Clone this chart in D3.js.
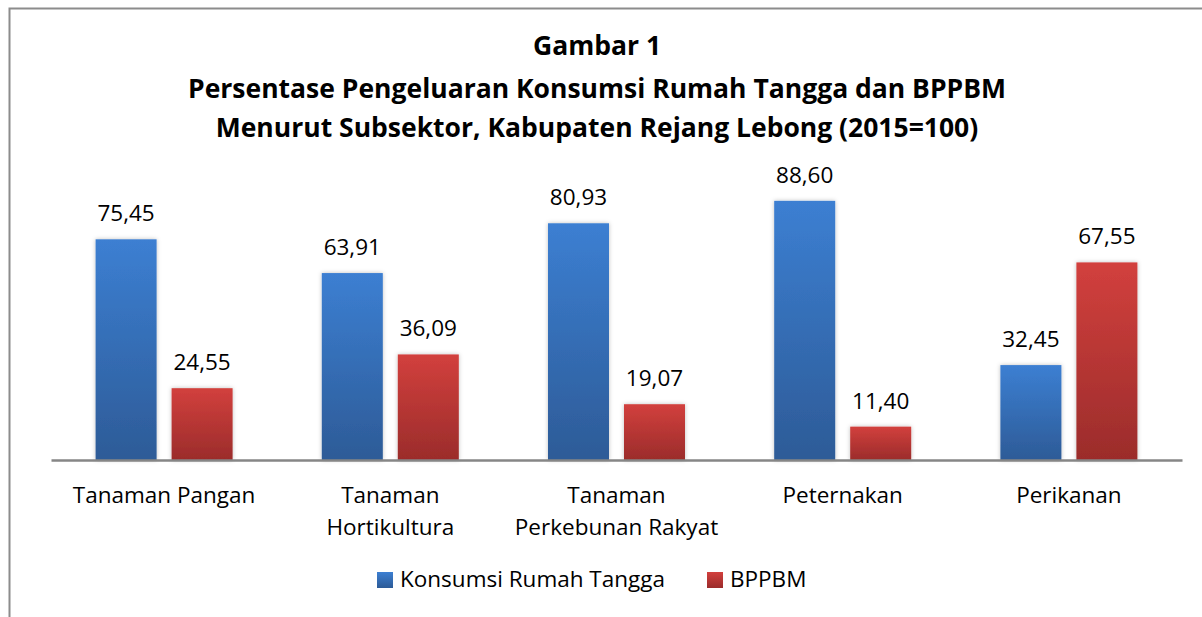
<!DOCTYPE html>
<html>
<head>
<meta charset="utf-8">
<script src="https://cdn.jsdelivr.net/npm/d3@7"></script>
<style>
  body { margin: 0; background: #fff; }
  text { font-family: "Open Sans", sans-serif; fill: #000; }
</style>
</head>
<body>
<div id="chart"></div>
<script>
const categories = [["Tanaman Pangan"], ["Tanaman", "Hortikultura"], ["Tanaman", "Perkebunan Rakyat"], ["Peternakan"], ["Perikanan"]]
const seriesNames = ["Konsumsi Rumah Tangga", "BPPBM"]
const konsumsi = [75.45, 63.91, 80.93, 88.60, 32.45]
const bppbm = [24.55, 36.09, 19.07, 11.40, 67.55]
const titleLines = ["Gambar 1", "Persentase Pengeluaran Konsumsi Rumah Tangga dan BPPBM", "Menurut Subsektor, Kabupaten Rejang Lebong (2015=100)"]

const W = 1202, H = 617
const margin = { top: 160, right: 20, bottom: 157, left: 51 }
const innerW = 1182 - margin.left
const innerH = 460 - margin.top

const svg = d3.select("#chart").append("svg").attr("width", W).attr("height", H)

// 渐变
const defs = svg.append("defs")
const grads = [["gBlue", "#3c7fd2", "#2d5b97"], ["gRed", "#d2403d", "#9b2c2b"]]
grads.forEach(([id, c1, c2]) => {
  const g = defs.append("linearGradient").attr("id", id).attr("x1", 0).attr("y1", 0).attr("x2", 0).attr("y2", 1)
  g.append("stop").attr("offset", "0%").attr("stop-color", c1)
  g.append("stop").attr("offset", "100%").attr("stop-color", c2)
})
const shadow = defs.append("filter").attr("id", "shadow").attr("x", "-20%").attr("y", "-20%").attr("width", "140%").attr("height", "140%")
shadow.append("feDropShadow").attr("dx", 0).attr("dy", 0).attr("stdDeviation", 2).attr("flood-color", "#000").attr("flood-opacity", 0.25)

// 外框
svg.append("path").attr("d", `M9.5,${H} V8.5 H${W}`).attr("fill", "none").attr("stroke", "#8c8c8c").attr("stroke-width", 2)

// 标题
const titleY = [55, 98, 137]
svg.append("g").selectAll("text").data(titleLines).join("text")
  .attr("x", 597).attr("y", (d, i) => titleY[i])
  .attr("text-anchor", "middle").attr("font-weight", "bold").attr("font-size", 26.5)
  .text(d => d)

const root = svg.append("g").attr("transform", `translate(${margin.left},${margin.top})`)

const x0 = d3.scaleBand().domain(d3.range(categories.length)).range([0, innerW])
const y = d3.scaleLinear().domain([0, 300 / 2.925]).range([innerH, 0])
const barW = 61, gap = 15

const series = [konsumsi, bppbm]
series.forEach((vals, s) => {
  const off = s === 0 ? -(gap / 2 + barW) : gap / 2
  const g = root.append("g")
  g.selectAll("rect").data(vals).join("rect")
    .attr("x", (d, i) => x0(i) + x0.bandwidth() / 2 + off)
    .attr("y", d => y(d))
    .attr("width", barW)
    .attr("height", d => innerH - y(d))
    .attr("fill", s === 0 ? "url(#gBlue)" : "url(#gRed)")
    .attr("filter", "url(#shadow)")
  g.selectAll("text").data(vals).join("text")
    .attr("x", (d, i) => x0(i) + x0.bandwidth() / 2 + off + barW / 2)
    .attr("y", d => y(d) - 18)
    .attr("text-anchor", "middle").attr("font-size", 22.5)
    .text(d => d.toFixed(2).replace(".", ","))
})

// X 轴
const xAxis = d3.axisBottom(x0).tickSize(0).tickFormat("")
const ax = root.append("g").attr("transform", `translate(0,${innerH})`).call(xAxis)
ax.select(".domain").attr("stroke", "#868686").attr("stroke-width", 2.5)

const labs = root.append("g").selectAll("text").data(categories).join("text")
  .attr("x", (d, i) => x0(i) + x0.bandwidth() / 2)
  .attr("y", innerH + 43)
  .attr("text-anchor", "middle").attr("font-size", 22.5)
labs.selectAll("tspan").data(d => d).join("tspan")
  .attr("x", function () { return this.parentNode.getAttribute("x") })
  .attr("dy", (d, i) => i === 0 ? 0 : 32)
  .text(d => d)

// 图例
const legend = svg.append("g").attr("transform", "translate(377,587)")
const legendX = [0, 330]
seriesNames.forEach((n, i) => {
  legend.append("rect").attr("x", legendX[i]).attr("y", -15).attr("width", 16).attr("height", 16)
    .attr("fill", i === 0 ? "url(#gBlue)" : "url(#gRed)")
  legend.append("text").attr("x", legendX[i] + 23).attr("y", 0).attr("font-size", 22.5).text(n)
})
</script>
</body>
</html>
